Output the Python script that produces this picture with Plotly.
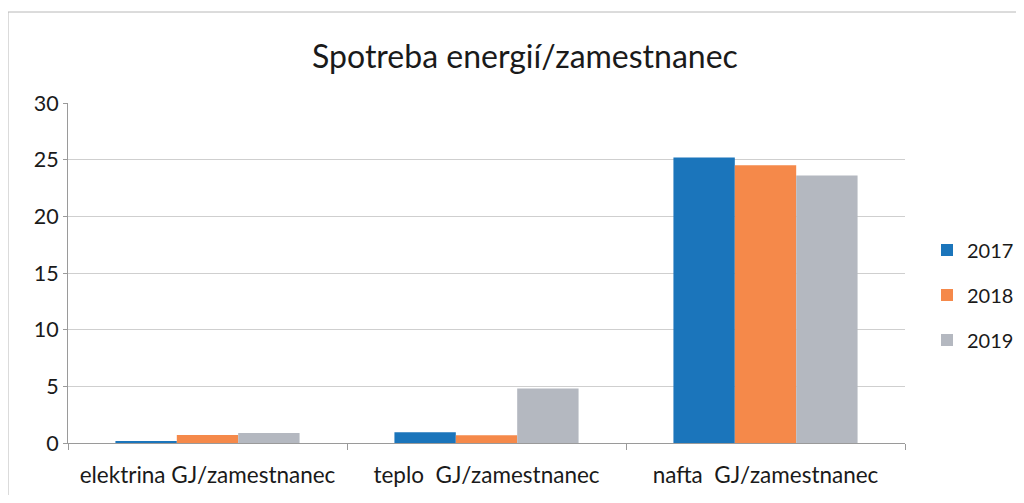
import plotly.graph_objects as go

categories = ["elektrina GJ/zamestnanec", "teplo  GJ/zamestnanec", "nafta  GJ/zamestnanec"]
years = ["2017", "2018", "2019"]
v2017 = [0.17, 0.95, 25.2]
v2018 = [0.7, 0.68, 24.5]
v2019 = [0.88, 4.8, 23.6]
colors = ["#1b75bb", "#f5894a", "#b4b8c0"]

fig = go.Figure()
for name, vals, c in zip(years, [v2017, v2018, v2019], colors):
    fig.add_trace(go.Bar(name=name, x=categories, y=vals, marker_color=c,
                         marker_line_width=0, legendgroup=name))

# page body adds an 8px offset; figure coordinates below are screen - 8
W, H = 1008, 487
L, T = 60, 95
plot_r, plot_b = 897, 435
R, B = W - plot_r, H - plot_b
pw, ph = plot_r - L, plot_b - T

txt = "#1a1a1a"
fig.update_layout(
    width=W, height=H,
    margin=dict(l=L, r=R, t=T, b=B, autoexpand=False),
    paper_bgcolor="white", plot_bgcolor="white",
    font=dict(family="Lato, Noto Sans, sans-serif", color=txt, size=22),
    title=dict(text="Spotreba energií/zamestnanec", x=517 / W, xanchor="center",
               y=1 - 49 / H, yanchor="middle", font=dict(size=32, color=txt)),
    barmode="group", bargap=0.34, bargroupgap=0,
    legend=dict(x=(919 - L) / pw, xanchor="left", y=(plot_b - 287) / ph, yanchor="middle",
                font=dict(size=20, color=txt), itemsizing="constant", tracegroupgap=16,
                bgcolor="rgba(0,0,0,0)"),
    showlegend=True,
)
fig.update_yaxes(range=[0, 30], dtick=5, showgrid=True, gridcolor="#cfcfcf", gridwidth=1,
                 showline=True, linecolor="#9a9a9a", ticks="outside", ticklen=4,
                 tickcolor="#9a9a9a", zeroline=False, tickfont=dict(size=21.5, color=txt),
                 ticklabelstandoff=0)
fig.update_xaxes(showline=True, linecolor="#9a9a9a", ticks="outside", tickson="boundaries",
                 ticklen=6, tickcolor="#9a9a9a", tickfont=dict(size=22.5, color=txt),
                 ticklabelstandoff=12)

fig.add_shape(type="rect", xref="paper", yref="paper",
              x0=(0 - L) / pw, x1=(W + 20 - L) / pw, y0=(plot_b - H - 20) / ph,
              y1=(plot_b - 4) / ph,
              line=dict(color="#b8b8b8", width=1), layer="below")

fig.write_html("out.html")
